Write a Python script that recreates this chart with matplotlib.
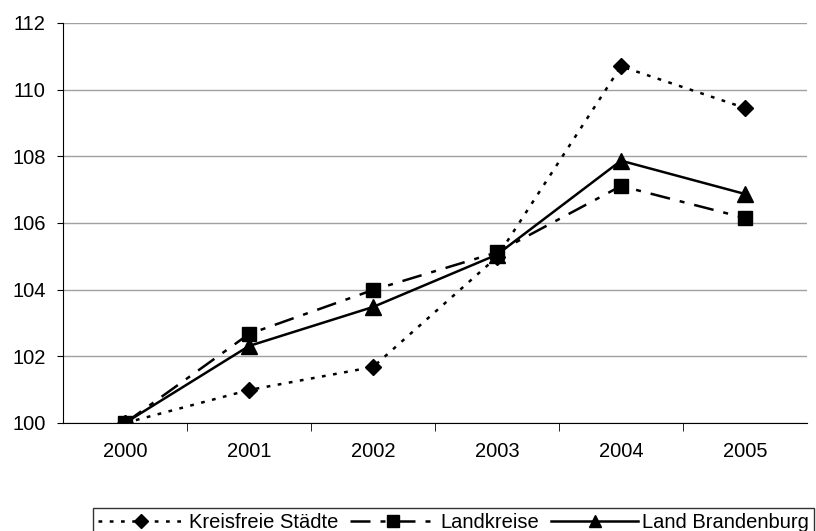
import matplotlib
matplotlib.use("Agg")
import matplotlib.pyplot as plt

years = ["2000", "2001", "2002", "2003", "2004", "2005"]
kreisfreie = [100.0, 100.99, 101.68, 104.98, 110.70, 109.45]
landkreise = [100.0, 102.67, 103.99, 105.12, 107.11, 106.15]
brandenburg = [100.0, 102.31, 103.48, 105.05, 107.87, 106.87]
yticks = [100, 102, 104, 106, 108, 110, 112]

plt.rcParams['font.family'] = ['Liberation Sans', 'DejaVu Sans']
FS = 14.5

fig = plt.figure(figsize=(8.16, 5.31), dpi=100)
ax = fig.add_axes([63/816, 1-423/531, (807-63)/816, 400/531])

x = list(range(len(years)))
ax.plot(x, kreisfreie, color='black', lw=1.8, linestyle=(0, (1.5, 3)),
        marker='D', markersize=8.5, label='Kreisfreie Städte')
ax.plot(x, landkreise, color='black', lw=1.8, linestyle=(0, (8, 4, 2, 4)),
        marker='s', markersize=10.5, label='Landkreise')
ax.plot(x, brandenburg, color='black', lw=1.8, linestyle='-',
        marker='^', markersize=11, label='Land Brandenburg')

ax.set_xlim(-0.5, len(years) - 0.5)
ax.set_ylim(100, 112)
ax.set_yticks(yticks)
ax.set_yticklabels([str(v) for v in yticks], fontsize=FS)
ax.yaxis.grid(True, color='#a0a0a0', lw=1)
ax.set_axisbelow(True)

ax.set_xticks(x)
ax.set_xticklabels(years, fontsize=FS)
ax.tick_params(axis='x', length=0, pad=14)
ax.set_xticks([i + 0.5 for i in range(len(years) - 1)], minor=True)
ax.tick_params(axis='x', which='minor', length=6, direction='out', color='black')
ax.tick_params(axis='y', length=4.5, direction='out', color='black', pad=8)

for s in ['top', 'right']:
    ax.spines[s].set_visible(False)
ax.spines['left'].set_color('black')
ax.spines['bottom'].set_color('black')

leg = fig.legend(loc='lower right', bbox_to_anchor=(814/816, -0.012), ncol=3,
                 fontsize=FS, frameon=True, fancybox=False, edgecolor='black',
                 handlelength=4.3, columnspacing=0.6, handletextpad=0.2,
                 borderpad=0.25, borderaxespad=0, markerscale=0.85)
leg.get_frame().set_linewidth(1)

fig.savefig("out.png", dpi=100)
